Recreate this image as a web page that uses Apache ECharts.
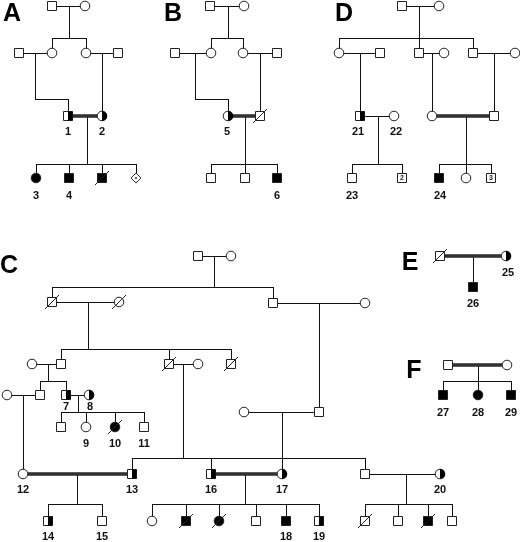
<!DOCTYPE html>
<html><head><meta charset="utf-8">
<script src="https://cdn.jsdelivr.net/npm/echarts@6/dist/echarts.min.js"></script>
<style>html,body{margin:0;padding:0;background:#fff}#c{width:520px;height:542px}</style>
</head><body><div id="c"></div><script>
// Panel letters: [text, x, y]
const panelLetters = [['A',12,14],['B',173,14],['D',344,14],['C',9,266],['E',410,263],['F',414,371]];

// Individuals: [x, y, sex (m/f/u), status (0 unaffected, 1 affected, 2 carrier), deceased (0/1), inner text]
const individuals = [
  // Panel A
  [52,6,'m',0,0,''],[85,6,'f',0,0,''],
  [19,53,'m',0,0,''],[52,53,'f',0,0,''],[86,53,'f',0,0,''],[118,53,'m',0,0,''],
  [68,116,'m',2,0,''],[102,116,'f',2,0,''],
  [36,178,'f',1,0,''],[69,178,'m',1,0,''],[102,178,'m',1,1,''],[136,178,'u',0,0,''],
  // Panel B
  [210,6,'m',0,0,''],[244,6,'f',0,0,''],
  [175,53,'m',0,0,''],[211,53,'f',0,0,''],[243,53,'f',0,0,''],[277,53,'m',0,0,''],
  [228,116,'f',2,0,''],[260,116,'m',0,1,''],
  [211,178,'m',0,0,''],[245,178,'m',0,0,''],[277,178,'m',1,0,''],
  // Panel D
  [402,6,'m',0,0,''],[439,6,'f',0,0,''],
  [339,53,'f',0,0,''],[380,53,'m',0,0,''],[419,53,'m',0,0,''],[444,53,'f',0,0,''],[473,53,'m',0,0,''],[515,53,'f',0,0,''],
  [360,116,'m',2,0,''],[394,116,'f',0,0,''],[432,116,'f',0,0,''],[494,116,'m',0,0,''],
  [352,178,'m',0,0,''],[402,178,'m',0,0,'2'],[439,178,'m',1,0,''],[466,178,'f',0,0,''],[491,178,'m',0,0,'3'],
  // Panel C
  [198,256,'m',0,0,''],[231,256,'f',0,0,''],
  [52,302,'m',0,1,''],[119,302,'f',0,1,''],[273,303,'m',0,0,''],[365,303,'f',0,0,''],
  [32,364,'f',0,0,''],[61,364,'m',0,0,''],[169,364,'m',0,1,''],[198,364,'f',0,0,''],[231,364,'m',0,1,''],
  [7,395,'f',0,0,''],[40,395,'m',0,0,''],[66,395,'m',2,0,''],[89,395,'f',2,0,''],
  [244,412,'f',0,0,''],[319,412,'m',0,0,''],
  [61,427,'m',0,0,''],[86,427,'f',0,0,''],[115,427,'f',1,1,''],[144,427,'m',0,0,''],
  [23,474,'f',0,0,''],[132,474,'m',2,0,''],[211,474,'m',2,0,''],[282,474,'f',2,0,''],[365,474,'m',0,0,''],[440,474,'f',2,0,''],
  [48,521,'m',2,0,''],[102,521,'m',0,0,''],
  [152,521,'f',0,0,''],[186,521,'m',1,1,''],[219,521,'f',1,1,''],[256,521,'m',0,0,''],[286,521,'m',1,0,''],[319,521,'m',2,0,''],
  [365,521,'m',0,1,''],[398,521,'m',0,0,''],[428,521,'m',1,1,''],[452,521,'m',0,0,''],
  // Panel E
  [440,256,'m',0,1,''],[506,256,'f',2,0,''],[473,287,'m',1,0,''],
  // Panel F
  [448,365,'m',0,0,''],[507,365,'f',0,0,''],
  [443,395,'m',1,0,''],[478,395,'f',1,0,''],[511,395,'m',1,0,'']
];

// Relationship / descent segments: [x1, y1, x2, y2]
const lineSegments = [
  // A
  [52,6,85,6],[69,6,69,38],[52,38,86,38],[52,38,52,53],[86,38,86,53],
  [19,53,52,53],[86,53,118,53],
  [35,53,35,99],[35,99,68,99],[68,99,68,116],[102,53,102,116],
  [87,116,87,164],[36,164,136,164],
  [36,164,36,178],[69,164,69,178],[102,164,102,178],[136,164,136,178],
  // B
  [210,6,244,6],[228,6,228,38],[211,38,243,38],[211,38,211,53],[243,38,243,53],
  [175,53,211,53],[243,53,277,53],
  [195,53,195,99],[195,99,228,99],[228,99,228,116],[260,53,260,116],
  [245,116,245,164],[211,164,277,164],
  [211,164,211,178],[245,164,245,178],[277,164,277,178],
  // D
  [402,6,439,6],[419,6,419,38],[339,38,473,38],[339,38,339,53],[419,38,419,53],[473,38,473,53],
  [339,53,380,53],[419,53,444,53],[473,53,515,53],
  [360,53,360,116],[360,116,394,116],[378,116,378,164],[352,164,402,164],[352,164,352,178],[402,164,402,178],
  [432,53,432,116],[494,53,494,116],
  [466,116,466,164],[439,164,491,164],[439,164,439,178],[466,164,466,178],[491,164,491,178],
  // C
  [198,256,231,256],[214,256,214,287],[52,287,273,287],[52,287,52,302],[273,287,273,303],
  [52,302,119,302],[88,302,88,349],[61,349,231,349],
  [61,349,61,364],[169,349,169,364],[231,349,231,364],
  [32,364,61,364],[169,364,198,364],
  [48,364,48,381],[40,381,66,381],[40,381,40,395],[66,381,66,395],
  [7,395,40,395],[66,395,89,395],
  [78,395,78,412],[61,412,144,412],
  [61,412,61,427],[86,412,86,427],[115,412,115,427],[144,412,144,427],
  [23,395,23,474],
  [183,364,183,458],[132,458,365,458],[132,458,132,474],[211,458,211,474],[365,458,365,474],
  [273,303,365,303],[319,303,319,412],[244,412,319,412],[282,412,282,474],
  [77,474,77,504],[48,504,102,504],[48,504,48,521],[102,504,102,521],
  [245,474,245,504],[152,504,319,504],
  [152,504,152,521],[186,504,186,521],[219,504,219,521],[256,504,256,521],[286,504,286,521],[319,504,319,521],
  [365,474,440,474],[406,474,406,504],[365,504,452,504],
  [365,504,365,521],[398,504,398,521],[428,504,428,521],[452,504,452,521],
  // E
  [473,256,473,287],
  // F
  [478,365,478,381],[443,381,511,381],[443,381,443,395],[478,381,478,395],[511,381,511,395]
];

// Consanguineous unions (double lines): [x1, x2, y]
const consanguineous = [
  [68,102,116],[228,260,116],[432,494,116],
  [23,132,474],[211,282,474],
  [440,506,256],[448,507,365]
];

// Individual identifiers: [text, x, y]
const idLabels = [
  ['1',68,132],['2',102,132],['3',36,196],['4',69,196],
  ['5',227,132],['6',277,196],
  ['21',358,132],['22',396,132],['23',352,196],['24',440,196],
  ['7',66,407],['8',90,407],['9',86,444],['10',115,444],['11',144,444],
  ['12',23,490],['13',132,490],['16',211,490],['17',282,490],['20',440,490],
  ['14',48,537],['15',102,537],['18',286,537],['19',319,537],
  ['25',508,273],['26',473,304],
  ['27',443,413],['28',478,413],['29',511,413]
];

const FONT = '"Liberation Sans", Arial, sans-serif';
const chart = echarts.init(document.getElementById('c'), null, {renderer: 'canvas'});

function crisp(v) { return Math.round(v) + 0.5; }

const option = {
  animation: false,
  backgroundColor: '#fff',
  grid: {left: 0, right: 0, top: 0, bottom: 0},
  xAxis: {type: 'value', min: 0, max: 520, show: false},
  yAxis: {type: 'value', min: 0, max: 542, inverse: true, show: false},
  series: [
    {
      type: 'custom', clip: false, z: 1,
      data: lineSegments.map((s, i) => [s[0], s[1], i]),
      renderItem: function (params, api) {
        const s = lineSegments[params.dataIndex];
        const a = api.coord([s[0], s[1]]);
        const b = api.coord([s[2], s[3]]);
        let x1 = a[0], y1 = a[1], x2 = b[0], y2 = b[1];
        if (Math.abs(y1 - y2) < 0.01) { y1 = y2 = crisp(y1); }
        if (Math.abs(x1 - x2) < 0.01) { x1 = x2 = crisp(x1); }
        return {type: 'line', shape: {x1, y1, x2, y2}, style: {stroke: '#111', lineWidth: 1}};
      }
    },
    {
      type: 'custom', clip: false, z: 2,
      data: consanguineous.map((s, i) => [s[0], s[2], i]),
      renderItem: function (params, api) {
        const s = consanguineous[params.dataIndex];
        const a = api.coord([s[0], s[2]]);
        const b = api.coord([s[1], s[2]]);
        const y = Math.round(a[1]);
        return {type: 'group', children: [
          {type: 'line', shape: {x1: a[0], y1: y, x2: b[0], y2: y}, style: {stroke: '#555', lineWidth: 3}},
          {type: 'line', shape: {x1: a[0], y1: y - 1, x2: b[0], y2: y - 1}, style: {stroke: '#111', lineWidth: 1}},
          {type: 'line', shape: {x1: a[0], y1: y + 1, x2: b[0], y2: y + 1}, style: {stroke: '#111', lineWidth: 1}}
        ]};
      }
    },
    {
      type: 'custom', clip: false, z: 3,
      data: individuals.map((p, i) => [p[0], p[1], i]),
      renderItem: function (params, api) {
        const p = individuals[params.dataIndex];
        const c = api.coord([p[0], p[1]]);
        const cx = Math.round(c[0]), cy = Math.round(c[1]);
        const h = 4.5;
        const kids = [];
        const fillCol = p[3] === 1 ? '#000' : '#fff';
        if (p[2] === 'm') {
          kids.push({type: 'rect', shape: {x: cx - h, y: cy - h, width: 2 * h, height: 2 * h},
            style: {fill: fillCol, stroke: '#222', lineWidth: 1}});
          if (p[3] === 2) {
            kids.push({type: 'rect', shape: {x: cx, y: cy - h, width: h, height: 2 * h}, style: {fill: '#000'}});
          }
        } else if (p[2] === 'f') {
          kids.push({type: 'circle', shape: {cx: cx, cy: cy, r: h + 0.3},
            style: {fill: fillCol, stroke: '#222', lineWidth: 1}});
          if (p[3] === 2) {
            kids.push({type: 'sector', shape: {cx: cx, cy: cy, r0: 0, r: h + 0.6, startAngle: -Math.PI / 2, endAngle: Math.PI / 2, clockwise: true},
              style: {fill: '#000'}});
          }
        } else {
          const d = 5;
          kids.push({type: 'polygon', shape: {points: [[cx, cy - d], [cx + d, cy], [cx, cy + d], [cx - d, cy]]},
            style: {fill: '#fff', stroke: '#333', lineWidth: 1}});
          kids.push({type: 'polygon', shape: {points: [[cx, cy - 1.6], [cx + 1.6, cy], [cx, cy + 1.6], [cx - 1.6, cy]]},
            style: {fill: '#666'}});
        }
        if (p[4]) {
          kids.push({type: 'line', shape: {x1: cx - 7, y1: cy + 7, x2: cx + 7, y2: cy - 7}, style: {stroke: '#222', lineWidth: 1}});
        }
        if (p[5]) {
          kids.push({type: 'text', style: {text: p[5], x: cx, y: cy + 0.5, align: 'center', verticalAlign: 'middle',
            font: 'bold 7px ' + FONT, fill: '#222'}});
        }
        return {type: 'group', children: kids};
      }
    },
    {
      type: 'custom', clip: false, z: 4,
      data: idLabels.map((l, i) => [l[1], l[2], i]),
      renderItem: function (params, api) {
        const l = idLabels[params.dataIndex];
        const c = api.coord([l[1], l[2]]);
        return {type: 'text', style: {text: l[0], x: c[0], y: c[1], align: 'center', verticalAlign: 'middle',
          font: 'bold 11px ' + FONT, fill: '#111'}};
      }
    },
    {
      type: 'custom', clip: false, z: 4,
      data: panelLetters.map((l, i) => [l[1], l[2], i]),
      renderItem: function (params, api) {
        const l = panelLetters[params.dataIndex];
        const c = api.coord([l[1], l[2]]);
        return {type: 'text', style: {text: l[0], x: c[0], y: c[1], align: 'center', verticalAlign: 'middle',
          font: 'bold 25px ' + FONT, fill: '#000'}};
      }
    }
  ]
};
chart.setOption(option);
</script></body></html>
